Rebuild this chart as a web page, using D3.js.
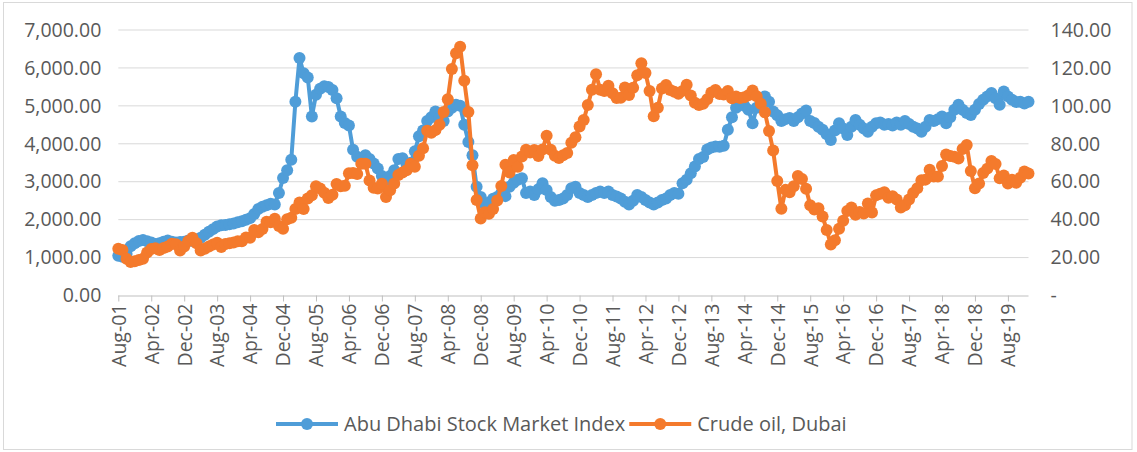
<!DOCTYPE html>
<html>
<head>
<meta charset="utf-8">
<script src="https://cdnjs.cloudflare.com/ajax/libs/d3/7.8.5/d3.min.js"></script>
<style>
body { margin: 0; background: #fff; }
text { font-family: "Open Sans", sans-serif; fill: #595959; }
</style>
</head>
<body>
<div id="chart"></div>
<script>
// monthly values Aug-01 .. Jan-20
var monthNames = ["Jan","Feb","Mar","Apr","May","Jun","Jul","Aug","Sep","Oct","Nov","Dec"];

var adx = [
  1050, 1020, 1100, 1300, 1380, 1440, 1460, 1430, 1400, 1360,
  1380, 1420, 1450, 1420, 1400, 1410, 1420, 1450, 1440, 1470,
  1520, 1600, 1680, 1750, 1820, 1850, 1860, 1880, 1900, 1930,
  1960, 2000, 2040, 2150, 2280, 2340, 2380, 2420, 2400, 2700,
  3100, 3300, 3580, 5110, 6260, 5860, 5750, 4720, 5290, 5450,
  5520, 5500, 5420, 5200, 4720, 4550, 4480, 3840, 3660, 3620,
  3700, 3600, 3480, 3350, 3150, 3050, 3150, 3300, 3600, 3620,
  3450, 3500, 3800, 4200, 4350, 4600, 4700, 4850, 4700, 4600,
  4850, 4950, 5030, 5000, 4500, 4050, 3700, 2870, 2600, 2400,
  2450, 2550, 2600, 2700, 2620, 2870, 2970, 3050, 3090, 2700,
  2740, 2650, 2800, 2960, 2780, 2600, 2500, 2520, 2560, 2650,
  2830, 2870, 2700, 2650, 2600, 2650, 2700, 2740, 2700, 2740,
  2650, 2610, 2560, 2470, 2400, 2500, 2650, 2600, 2520, 2450,
  2400, 2450, 2520, 2560, 2650, 2700, 2680, 2960, 3050, 3220,
  3400, 3600, 3650, 3850, 3900, 3930, 3920, 3950, 4370, 4700,
  4950, 5050, 5000, 4900, 4540, 4950, 5100, 5250, 5110, 4850,
  4750, 4600, 4650, 4680, 4600, 4700, 4800, 4880, 4600, 4550,
  4450, 4370, 4250, 4100, 4350, 4540, 4400, 4230, 4450, 4630,
  4500, 4400, 4320, 4450, 4540, 4560, 4500, 4520, 4480, 4560,
  4500, 4600, 4520, 4450, 4400, 4320, 4450, 4630, 4600, 4650,
  4720, 4540, 4700, 4900, 5030, 4900, 4810, 4760, 4900, 5050,
  5160, 5250, 5340, 5200, 5030, 5380, 5250, 5160, 5100, 5110,
  5060, 5110
];

var dubai = [
  24.6, 24.0, 19.4, 17.6, 18.1,
  18.7, 19.4, 22.7, 24.5, 24.9, 24.0, 25.1, 25.9, 27.3, 27.0, 23.7, 25.9,
  28.8, 30.4, 27.5, 23.7, 24.7, 25.9, 26.9, 27.8, 25.6, 27.1, 27.6, 27.9,
  28.6, 28.6, 30.6, 30.5, 34.5, 33.3, 35.1, 38.9, 38.6, 40.5, 36.6, 35.2,
  40.2, 41.0, 45.6, 49.0, 45.6, 51.2, 52.9, 57.6, 56.4, 54.2, 51.4, 53.1,
  58.8, 57.6, 57.9, 64.5, 64.6, 64.1, 69.5, 69.5, 60.7, 56.8, 56.4, 58.9,
  51.9, 55.5, 59.0, 63.6, 64.8, 66.0, 69.5, 67.9, 73.7, 77.6, 86.9, 85.8,
  87.2, 90.0, 96.7, 103.5, 119.4, 127.8, 131.2, 113.2, 96.8, 68.7, 50.3, 40.6,
  43.9, 43.1, 45.6, 50.1, 57.7, 68.9, 64.9, 71.4, 67.9, 73.3, 76.9, 75.4,
  76.7, 73.6, 77.0, 84.3, 76.9, 73.7, 72.5, 73.9, 75.1, 80.6, 83.5, 89.1,
  92.5, 100.4, 108.5, 116.7, 108.5, 107.8, 110.6, 106.6, 104.1, 104.3, 109.7, 105.7,
  109.5, 116.2, 122.5, 117.3, 107.8, 94.5, 99.0, 109.2, 111.0, 108.3, 107.4, 106.4,
  107.9, 111.1, 105.5, 101.7, 100.4, 101.1, 103.5, 107.0, 108.3, 106.3, 106.0, 107.9,
  104.0, 105.0, 104.2, 104.5, 105.6, 108.1, 105.1, 101.1, 96.6, 86.7, 76.4, 60.4,
  45.7, 55.7, 54.4, 57.6, 63.0, 61.4, 56.3, 47.6, 45.4, 46.0, 41.7, 34.6,
  26.9, 29.1, 35.2, 39.4, 44.6, 46.4, 42.6, 44.0, 43.3, 48.5, 43.8, 52.8,
  53.7, 54.5, 51.5, 52.4, 50.6, 46.4, 47.6, 50.6, 54.0, 56.5, 60.8, 61.1,
  66.3, 62.7, 62.8, 68.3, 74.3, 73.6, 73.1, 72.3, 77.2, 79.4, 65.6, 56.6,
  59.0, 64.6, 66.9, 70.9, 69.4, 61.8, 63.3, 59.1, 61.1, 59.4, 62.1, 65.4,
  64.3
];

var leftTicks = [0, 1000, 2000, 3000, 4000, 5000, 6000, 7000];
var rightTicks = [0, 20, 40, 60, 80, 100, 120, 140];
var seriesNames = ["Abu Dhabi Stock Market Index", "Crude oil, Dubai"];
var colors = ["#4f9dd8", "#f47a2c"];

// category labels like "Aug-01"
var months = [];
for (var i = 0; i < adx.length; i++) {
  var k = 7 + i;
  months.push(monthNames[k % 12] + "-" + String(2001 + Math.floor(k / 12)).slice(2));
}
var tickMonths = months.filter(function(d, i) { return i % 8 === 0; });

var W = 1137, H = 452;
var plotL = 118.3, plotR = 1028.5, plotT = 30, plotB = 295.5;

var svg = d3.select("#chart").append("svg")
  .attr("width", W)
  .attr("height", H);

svg.append("rect")
  .attr("x", 3.5).attr("y", 2.5)
  .attr("width", 1128.5).attr("height", 447)
  .attr("fill", "#fff")
  .attr("stroke", "#d9d9d9");

var x = d3.scalePoint().domain(months).range([plotL, plotR]);
var yL = d3.scaleLinear().domain([0, 7000]).range([plotB, plotT]);
var yR = d3.scaleLinear().domain([0, 140]).range([plotB, plotT]);

// gridlines
svg.append("g").selectAll("line")
  .data(leftTicks.slice(1))
  .enter().append("line")
  .attr("x1", plotL).attr("x2", plotR)
  .attr("y1", function(d) { return yL(d); })
  .attr("y2", function(d) { return yL(d); })
  .attr("stroke", "#d9d9d9")
  .attr("stroke-width", 1);

// left axis
var gL = svg.append("g")
  .attr("transform", "translate(" + plotL + ",0)")
  .call(d3.axisLeft(yL).tickValues(leftTicks).tickSize(0).tickPadding(17)
    .tickFormat(d3.format(",.2f")));
gL.select(".domain").remove();

// right axis
var gR = svg.append("g")
  .attr("transform", "translate(" + plotR + ",0)")
  .call(d3.axisRight(yR).tickValues(rightTicks).tickSize(0).tickPadding(22)
    .tickFormat(function(d) { return d === 0 ? " -" : d3.format(".2f")(d); }));
gR.select(".domain").remove();

// bottom axis
var gX = svg.append("g")
  .attr("transform", "translate(0," + plotB + ")")
  .call(d3.axisBottom(x).tickValues(tickMonths).tickSize(6).tickSizeOuter(0));
gX.select(".domain").attr("stroke", "#bfbfbf").attr("d", "M" + plotL + ",0.5H" + plotR);
gX.selectAll(".tick line").attr("stroke", "#bfbfbf");
gX.selectAll(".tick text")
  .attr("transform", "rotate(-90)")
  .attr("text-anchor", "end")
  .attr("x", -8)
  .attr("y", 0)
  .attr("dy", "0.35em");

svg.selectAll(".tick text")
  .style("font-family", "'Open Sans', sans-serif")
  .style("font-size", "19.5px")
  .attr("fill", "#595959");

// series
var seriesData = [adx, dubai];
var scales = [yL, yR];

seriesData.forEach(function(vals, s) {
  var ys = scales[s];
  var line = d3.line()
    .x(function(d, i) { return x(months[i]); })
    .y(function(d) { return ys(d); });

  var g = svg.append("g");
  g.append("path")
    .datum(vals)
    .attr("d", line)
    .attr("fill", "none")
    .attr("stroke", colors[s])
    .attr("stroke-width", 4)
    .attr("stroke-linejoin", "round");

  g.selectAll("circle")
    .data(vals)
    .enter().append("circle")
    .attr("cx", function(d, i) { return x(months[i]); })
    .attr("cy", function(d) { return ys(d); })
    .attr("r", 6)
    .attr("fill", colors[s]);
});

// legend
var legend = svg.append("g").attr("transform", "translate(0,424)");
var lx = 276;
seriesNames.forEach(function(name, s) {
  legend.append("line")
    .attr("x1", lx).attr("x2", lx + 62)
    .attr("stroke", colors[s]).attr("stroke-width", 4);
  legend.append("circle")
    .attr("cx", lx + 31).attr("r", 6)
    .attr("fill", colors[s]);
  var t = legend.append("text")
    .attr("x", lx + 68)
    .attr("dy", "0.35em")
    .style("font-size", "20px")
    .text(name);
  lx = lx + 68 + t.node().getComputedTextLength() + 4;
});
</script>
</body>
</html>
